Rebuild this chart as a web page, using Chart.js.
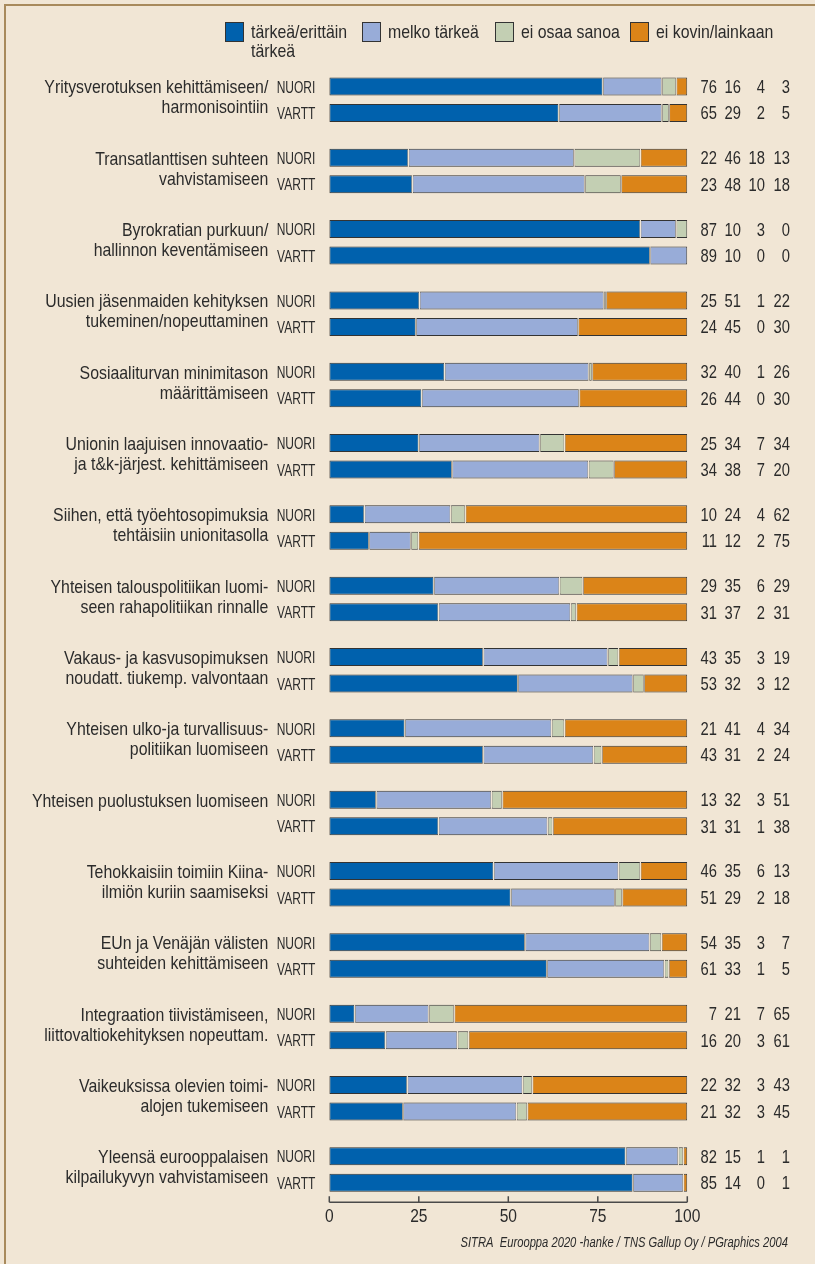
<!DOCTYPE html>
<html lang="fi">

<head>
    <meta charset="UTF-8">
    <title>Eurooppa 2020 - tärkeys</title>
    <script src="https://cdn.jsdelivr.net/npm/chart.js"></script>
    <style>
        html, body { margin: 0; padding: 0; background: #f1e6d5; }
        #wrap { position: relative; width: 815px; height: 1264px; }
    </style>
</head>

<body>
    <div id="wrap"><canvas id="myChart" width="815" height="1264"></canvas></div>

    <script>
        // aiheet (kaksi riviä per aihe)
        const categories = [
            ['Yritysverotuksen kehittämiseen/', 'harmonisointiin'],
            ['Transatlanttisen suhteen', 'vahvistamiseen'],
            ['Byrokratian purkuun/', 'hallinnon keventämiseen'],
            ['Uusien jäsenmaiden kehityksen', 'tukeminen/nopeuttaminen'],
            ['Sosiaaliturvan minimitason', 'määrittämiseen'],
            ['Unionin laajuisen innovaatio-', 'ja t&k-järjest. kehittämiseen'],
            ['Siihen, että työehtosopimuksia', 'tehtäisiin unionitasolla'],
            ['Yhteisen talouspolitiikan luomi-', 'seen rahapolitiikan rinnalle'],
            ['Vakaus- ja kasvusopimuksen', 'noudatt. tiukemp. valvontaan'],
            ['Yhteisen ulko-ja turvallisuus-', 'politiikan luomiseen'],
            ['Yhteisen puolustuksen luomiseen', ''],
            ['Tehokkaisiin toimiin Kiina-', 'ilmiön kuriin saamiseksi'],
            ['EUn ja Venäjän välisten', 'suhteiden kehittämiseen'],
            ['Integraation tiivistämiseen,', 'liittovaltiokehityksen nopeuttam.'],
            ['Vaikeuksissa olevien toimi-', 'alojen tukemiseen'],
            ['Yleensä eurooppalaisen', 'kilpailukyvyn vahvistamiseen']
        ];
        const groups = ['NUORI', 'VARTT'];
        const seriesNames = ['tärkeä/erittäin tärkeä', 'melko tärkeä', 'ei osaa sanoa', 'ei kovin/lainkaan'];
        const legendLines = [['tärkeä/erittäin', 'tärkeä'], ['melko tärkeä'], ['ei osaa sanoa'], ['ei kovin/lainkaan']];
        const colors = ['#0061ad', '#98acd8', '#c3cfb3', '#db8418'];
        const xTicks = [0, 25, 50, 75, 100];

        // palkkien pituudet (luettu kuvasta)
        const nuoriImportant = [76.4, 22.1, 86.9, 25.2, 32.2, 25.0, 9.8, 29.2, 43.0, 21.1, 13.1, 45.9, 54.7, 7.1, 21.8, 82.8];
        const nuoriFairly = [16.5, 46.3, 10.0, 51.5, 40.3, 33.8, 24.1, 35.1, 34.8, 41.0, 32.2, 34.9, 34.8, 20.7, 32.2, 14.7];
        const nuoriDontKnow = [4.0, 18.5, 3.1, 0.6, 0.9, 6.9, 4.1, 6.5, 3.0, 3.6, 3.0, 6.1, 3.3, 7.1, 2.7, 1.4];
        const nuoriNot = [3.1, 13.1, 0, 22.7, 26.6, 34.3, 62.0, 29.2, 19.2, 34.3, 51.7, 13.1, 7.2, 65.1, 43.3, 1.1];

        const varttImportant = [64.1, 23.2, 89.6, 24.2, 25.8, 34.3, 11.1, 30.5, 52.7, 43.0, 30.5, 50.7, 60.8, 15.7, 20.6, 84.8];
        const varttFairly = [28.8, 48.2, 10.4, 45.3, 44.0, 38.1, 11.7, 36.9, 32.1, 30.8, 30.5, 29.1, 32.8, 20.1, 31.7, 14.1];
        const varttDontKnow = [2.0, 10.1, 0, 0, 0, 7.1, 2.1, 1.6, 3.1, 2.3, 1.4, 2.0, 1.2, 3.1, 3.0, 0];
        const varttNot = [5.1, 18.5, 0, 30.5, 30.2, 20.5, 75.1, 31.0, 12.1, 23.9, 37.6, 18.2, 5.2, 61.1, 44.7, 1.1];

        // prosenttiluvut oikealla
        const nuoriPrinted = [
            [76, 16, 4, 3], [22, 46, 18, 13], [87, 10, 3, 0], [25, 51, 1, 22],
            [32, 40, 1, 26], [25, 34, 7, 34], [10, 24, 4, 62], [29, 35, 6, 29],
            [43, 35, 3, 19], [21, 41, 4, 34], [13, 32, 3, 51], [46, 35, 6, 13],
            [54, 35, 3, 7], [7, 21, 7, 65], [22, 32, 3, 43], [82, 15, 1, 1]
        ];
        const varttPrinted = [
            [65, 29, 2, 5], [23, 48, 10, 18], [89, 10, 0, 0], [24, 45, 0, 30],
            [26, 44, 0, 30], [34, 38, 7, 20], [11, 12, 2, 75], [31, 37, 2, 31],
            [53, 32, 3, 12], [43, 31, 2, 24], [31, 31, 1, 38], [51, 29, 2, 18],
            [61, 33, 1, 5], [16, 20, 3, 61], [21, 32, 3, 45], [85, 14, 0, 1]
        ];

        const source = 'SITRA  Eurooppa 2020 -hanke / TNS Gallup Oy / PGraphics 2004';

        const FONT = "'Liberation Sans', Arial, sans-serif";
        const TEXT = '#2b2b2b';
        const BG = '#f1e6d5';
        const numCols = [29.7, 53.7, 77.7, 102.7];
        const legendX = [225, 362, 495, 630];

        const nuoriSeries = [nuoriImportant, nuoriFairly, nuoriDontKnow, nuoriNot];
        const varttSeries = [varttImportant, varttFairly, varttDontKnow, varttNot];

        const datasets = [];
        [[nuoriSeries, groups[0]], [varttSeries, groups[1]]].forEach(([series, stack]) => {
            series.forEach((data, s) => {
                datasets.push({
                    label: seriesNames[s],
                    data: data,
                    stack: stack,
                    backgroundColor: colors[s],
                    borderColor: '#333333',
                    borderWidth: c => (c.raw > 0 ? 1 : 0),
                    borderSkipped: false,
                    categoryPercentage: 0.743,
                    barPercentage: 0.68
                });
            });
        });

        // kapea teksti: Liberation Sans puristettuna vaakasuunnassa
        function narrowText(c, text, x, y, align, size, sx, italic) {
            c.save();
            c.font = (italic ? 'italic ' : '') + size + 'px ' + FONT;
            c.textAlign = align;
            c.textBaseline = 'alphabetic';
            c.fillStyle = TEXT;
            c.translate(x, y);
            c.scale(sx, 1);
            c.fillText(text, 0, 0);
            c.restore();
        }

        const extras = {
            id: 'extras',
            beforeDraw(chart) {
                const c = chart.ctx;
                c.save();
                c.strokeStyle = '#a88a5c';
                c.lineWidth = 2;
                c.beginPath();
                c.moveTo(5, chart.height);
                c.lineTo(5, 5);
                c.lineTo(chart.width, 5);
                c.stroke();
                c.restore();
            },
            afterDatasetsDraw(chart) {
                const c = chart.ctx;
                const area = chart.chartArea;
                const xs = chart.scales.x;
                const ys = chart.scales.y;

                // pieni rako osien väliin
                c.save();
                c.fillStyle = BG;
                chart.data.datasets.forEach((ds, di) => {
                    if (di % 4 === 0) return;
                    chart.getDatasetMeta(di).data.forEach((bar, i) => {
                        if (!(ds.data[i] > 0)) return;
                        c.fillRect(bar.base - 0.6, bar.y - bar.height / 2, 1.2, bar.height);
                    });
                });
                c.restore();

                // selite
                legendLines.forEach((lines, s) => {
                    const lx = legendX[s];
                    c.save();
                    c.fillStyle = colors[s];
                    c.fillRect(lx, 22, 19, 20);
                    c.strokeStyle = '#333333';
                    c.lineWidth = 1;
                    c.strokeRect(lx + 0.5, 22.5, 18, 19);
                    c.restore();
                    lines.forEach((t, j) => narrowText(c, t, lx + 26, 38 + j * 19, 'left', 19, 0.835));
                });

                // aiheiden nimet
                categories.forEach((lines, i) => {
                    const cy = ys.getPixelForValue(i);
                    narrowText(c, lines[0], area.left - 61, cy - 6.3, 'right', 19, 0.835);
                    if (lines[1]) narrowText(c, lines[1], area.left - 61, cy + 13.7, 'right', 19, 0.835);
                });

                // NUORI / VARTT ja luvut
                [[0, groups[0], nuoriPrinted], [4, groups[1], varttPrinted]].forEach(([di, name, printed]) => {
                    chart.getDatasetMeta(di).data.forEach((bar, i) => {
                        narrowText(c, name, area.left - 14, bar.y + 6.2, 'right', 16, 0.75);
                        printed[i].forEach((v, k) =>
                            narrowText(c, String(v), area.right + numCols[k], bar.y + 6.5, 'right', 18, 0.82));
                    });
                });

                // x-akseli
                const y0 = area.bottom - 3;
                c.save();
                c.strokeStyle = '#4a4a4a';
                c.lineWidth = 1.5;
                c.beginPath();
                c.moveTo(xs.getPixelForValue(xTicks[0]), y0);
                c.lineTo(xs.getPixelForValue(xTicks[xTicks.length - 1]), y0);
                xTicks.forEach(t => {
                    const px = xs.getPixelForValue(t);
                    c.moveTo(px, y0);
                    c.lineTo(px, y0 - 6);
                });
                c.stroke();
                c.restore();
                xTicks.forEach(t => narrowText(c, String(t), xs.getPixelForValue(t), area.bottom + 16.8, 'center', 19, 0.82));

                // lähde
                narrowText(c, source, 788, 1247, 'right', 14, 0.8, true);
            }
        };

        const ctx = document.getElementById('myChart').getContext('2d');
        const myChart = new Chart(ctx, {
            type: 'bar',
            data: { labels: categories, datasets: datasets },
            options: {
                indexAxis: 'y',
                responsive: false,
                animation: false,
                layout: { padding: { left: 329.3, right: 127.7, top: 64, bottom: 58.8 } },
                plugins: { legend: { display: false }, tooltip: { enabled: false } },
                scales: {
                    x: { display: false, min: 0, max: 100, stacked: true },
                    y: { display: false }
                }
            },
            plugins: [extras]
        });
    </script>
</body>

</html>
